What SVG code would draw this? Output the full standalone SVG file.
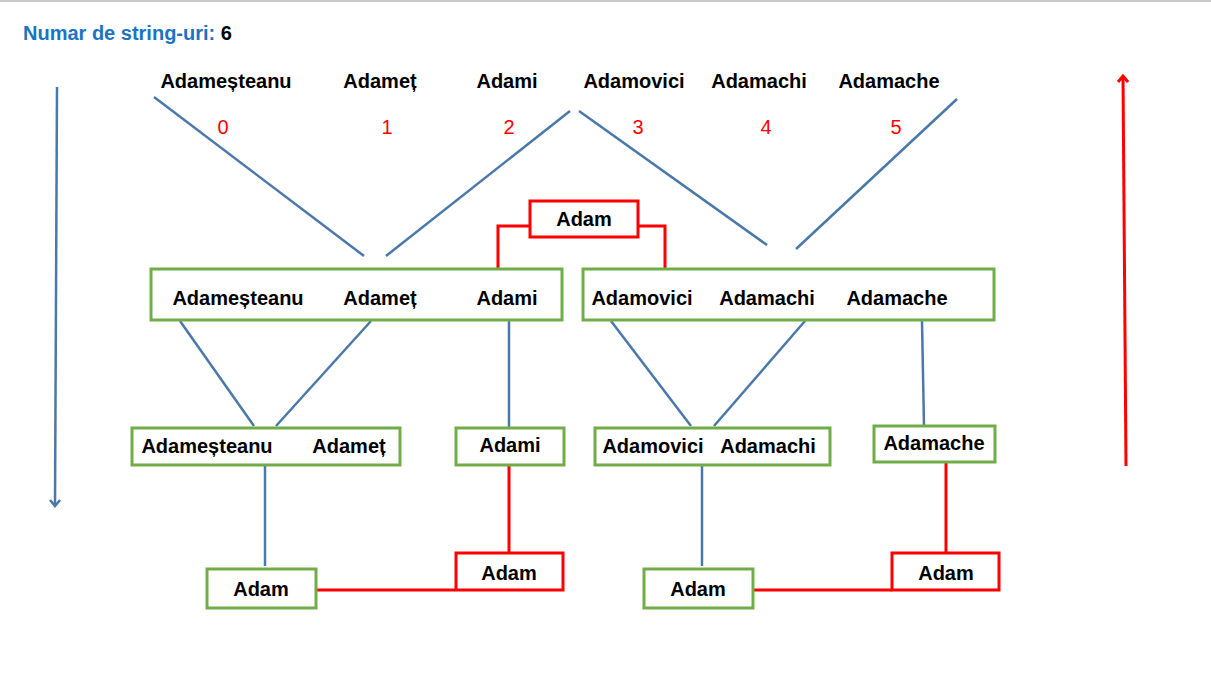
<svg xmlns="http://www.w3.org/2000/svg" width="1211" height="683" viewBox="0 0 1211 683">
<defs>
<style>
.t{font-family:"Liberation Sans",Arial,sans-serif;font-weight:bold;font-size:20px;fill:#000;text-anchor:middle}
.n{font-family:"Liberation Sans",Arial,sans-serif;font-size:20px;fill:#ff0000;text-anchor:middle}
.g{fill:#fff;stroke:#70ad47;stroke-width:3}
.r{fill:#fff;stroke:#ff0000;stroke-width:3}
.bl{stroke:#4a78a8;stroke-width:2.5;fill:none}
.rl{stroke:#ff0000;stroke-width:3;fill:none}
</style>
<marker id="ab" markerWidth="14" markerHeight="14" refX="11" refY="7" orient="auto" markerUnits="userSpaceOnUse" viewBox="0 0 14 14">
<path d="M5,2 L11,7 L5,12" fill="none" stroke="#4a78a8" stroke-width="2.5"/>
</marker>
<marker id="ar" markerWidth="14" markerHeight="14" refX="11" refY="7" orient="auto" markerUnits="userSpaceOnUse" viewBox="0 0 14 14">
<path d="M5,2 L11,7 L5,12" fill="none" stroke="#ff0000" stroke-width="3"/>
</marker>
</defs>
<rect x="0" y="0" width="1211" height="683" fill="#fff"/>
<rect x="0" y="0" width="1211" height="2" fill="#c8c8c8"/>
<text x="23" y="40" font-family="Liberation Sans,Arial,sans-serif" font-weight="bold" font-size="20" fill="#1b73c2">Numar de string-uri: <tspan fill="#000">6</tspan></text>

<g id="words">
<text class="t" x="226" y="88">Adameșteanu</text>
<text class="t" x="380" y="88">Adameț</text>
<text class="t" x="507" y="88">Adami</text>
<text class="t" x="634" y="88">Adamovici</text>
<text class="t" x="759" y="88">Adamachi</text>
<text class="t" x="889" y="88">Adamache</text>
</g>
<g id="indices">
<text class="n" x="223" y="134">0</text>
<text class="n" x="387" y="134">1</text>
<text class="n" x="509" y="134">2</text>
<text class="n" x="638" y="134">3</text>
<text class="n" x="766" y="134">4</text>
<text class="n" x="896" y="134">5</text>
</g>

<g id="connectors">
<line class="bl" x1="154" y1="97" x2="364" y2="256"/>
<line class="bl" x1="386" y1="256" x2="570" y2="111"/>
<line class="bl" x1="579" y1="111" x2="767" y2="245"/>
<line class="bl" x1="796" y1="249" x2="957" y2="99"/>
<path class="rl" d="M530,226 H498 V268"/>
<path class="rl" d="M638,226 H665 V268"/>
<line class="bl" x1="180" y1="321" x2="254" y2="426"/>
<line class="bl" x1="371" y1="321" x2="276" y2="426"/>
<line class="bl" x1="509" y1="318" x2="509" y2="428"/>
<line class="bl" x1="611" y1="321" x2="691" y2="426"/>
<line class="bl" x1="805" y1="321" x2="714" y2="426"/>
<line class="bl" x1="922" y1="321" x2="924" y2="426"/>
<line class="bl" x1="265" y1="466" x2="265" y2="566"/>
<line class="rl" x1="509" y1="466" x2="509" y2="553"/>
<line class="rl" x1="316" y1="590" x2="455" y2="590"/>
<line class="bl" x1="702" y1="466" x2="702" y2="566"/>
<line class="rl" x1="946" y1="463" x2="946" y2="553"/>
<line class="rl" x1="753" y1="590" x2="892" y2="590"/>
<line class="bl" x1="57" y1="87" x2="55" y2="506" marker-end="url(#ab)"/>
<line class="rl" x1="1126" y1="466" x2="1123" y2="76" marker-end="url(#ar)"/>
</g>

<g id="n-adam-top"><rect class="r" x="530" y="201" width="108" height="36"/><text class="t" x="584" y="226">Adam</text></g>
<g id="n-left"><rect class="g" x="151" y="269" width="411" height="51"/>
<text class="t" x="238" y="305">Adameșteanu</text><text class="t" x="380" y="305">Adameț</text><text class="t" x="507" y="305">Adami</text></g>
<g id="n-right"><rect class="g" x="583" y="269" width="411" height="51"/>
<text class="t" x="642" y="305">Adamovici</text><text class="t" x="767" y="305">Adamachi</text><text class="t" x="897" y="305">Adamache</text></g>
<g id="n-a"><rect class="g" x="132" y="428" width="268" height="37"/>
<text class="t" x="207" y="453">Adameșteanu</text><text class="t" x="349" y="453">Adameț</text></g>
<g id="n-b"><rect class="g" x="456" y="428" width="108" height="37"/><text class="t" x="510" y="452">Adami</text></g>
<g id="n-c"><rect class="g" x="595" y="428" width="235" height="37"/>
<text class="t" x="653" y="453">Adamovici</text><text class="t" x="768" y="453">Adamachi</text></g>
<g id="n-d"><rect class="g" x="874" y="426" width="121" height="36"/><text class="t" x="934" y="450">Adamache</text></g>
<g id="n-adam-l"><rect class="g" x="207" y="569" width="109" height="39"/><text class="t" x="261" y="596">Adam</text></g>
<g id="n-adam-lr"><rect class="r" x="456" y="553" width="107" height="37"/><text class="t" x="509" y="580">Adam</text></g>
<g id="n-adam-r"><rect class="g" x="644" y="569" width="109" height="39"/><text class="t" x="698" y="596">Adam</text></g>
<g id="n-adam-rr"><rect class="r" x="892" y="553" width="107" height="37"/><text class="t" x="946" y="580">Adam</text></g>
</svg>
